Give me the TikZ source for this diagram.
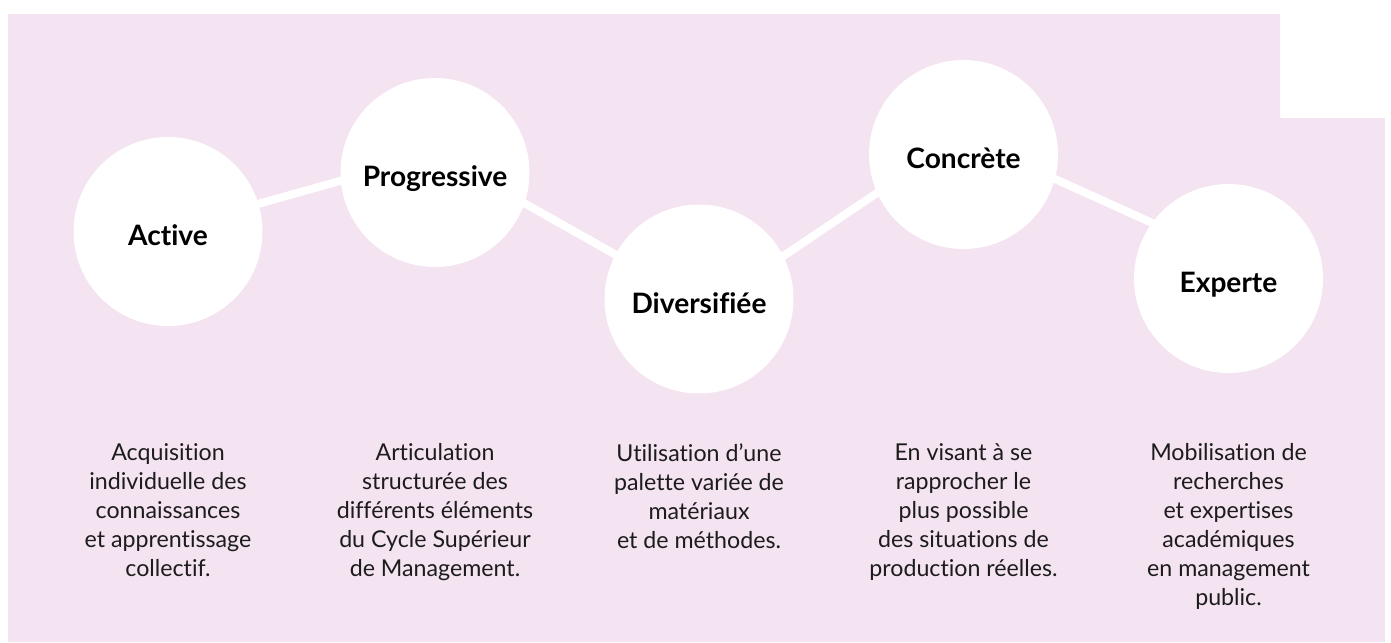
\documentclass[tikz,border=0pt]{standalone}
\usepackage{fontspec}
\setmainfont{Lato}[Ligatures={NoCommon,NoRare,NoDiscretionary}]
\usepackage{tikz}
\usetikzlibrary{positioning,calc}
\definecolor{pinkbg}{RGB}{244,227,241}
\definecolor{bodytext}{RGB}{28,28,28}

\begin{document}
\begin{tikzpicture}[
    stage/.style={circle, fill=white, minimum size=3.78cm, inner sep=0pt,
                  text height=0.56cm, text depth=0pt,
                  font=\fontsize{16}{19}\selectfont\bfseries, text=black},
    blurb/.style={anchor=north, inner sep=0pt, align=center, text=bodytext,
                  font=\fontsize{13.2}{16.5}\selectfont},
    link/.style={white, line width=0.16cm, shorten <=-3pt, shorten >=-3pt}
  ]
    \useasboundingbox (0,0) rectangle (27.82,-12.84);
    \fill[pinkbg] (0.16,-0.28) -- (25.6,-0.28) -- (25.6,-2.36) -- (27.7,-2.36)
        -- (27.7,-12.84) -- (0.16,-12.84) -- cycle;

    \node[stage] (active) at (3.36,-4.63) {Active};
    \node[stage] (progressive) at (8.70,-3.45) {Progressive};
    \node[stage] (diversifiee) at (13.98,-5.98) {Diversifiée};
    \node[stage] (concrete) at (19.27,-3.09) {Concrète};
    \node[stage] (experte) at (24.57,-5.57) {Experte};

    \draw[link] (active.17) -- (progressive.185);
    \draw[link] (progressive.-19) -- (diversifiee.152);
    \draw[link] (diversifiee.27) -- (concrete.204);
    \draw[link] (concrete.-15) -- (experte.144);

    \node[blurb] (t-active) at (3.36,-8.86) {Acquisition\\individuelle des\\connaissances\\et apprentissage\\collectif.};
    \node[blurb] (t-progressive) at (8.70,-8.86) {Articulation\\structurée des\\différents éléments\\du Cycle Supérieur\\de Management.};
    \node[blurb] (t-diversifiee) at (13.98,-8.86) {Utilisation d’une\\palette variée de\\matériaux\\et de méthodes.};
    \node[blurb] (t-concrete) at (19.27,-8.86) {En visant à se\\rapprocher le\\plus possible\\des situations de\\production réelles.};
    \node[blurb] (t-experte) at (24.57,-8.86) {Mobilisation de\\recherches\\et expertises\\académiques\\en management\\public.};
  \end{tikzpicture}
\end{document}
